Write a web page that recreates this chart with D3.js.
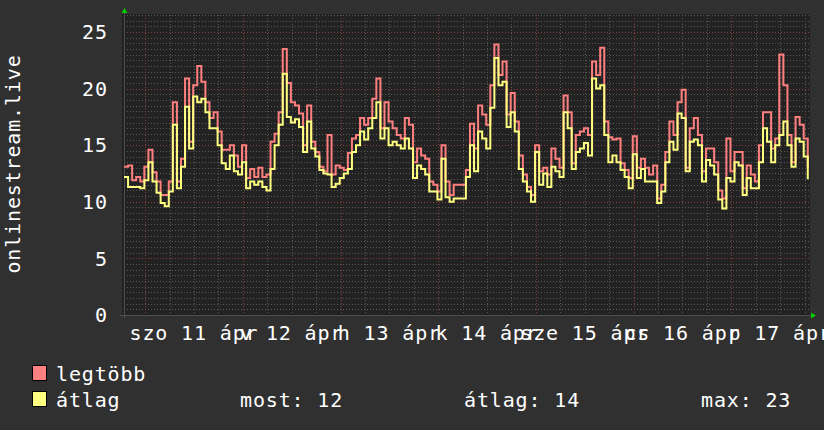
<!DOCTYPE html>
<html><head><meta charset="utf-8">
<script src="https://cdn.jsdelivr.net/npm/d3@7"></script>
<style>
html,body{margin:0;padding:0;background:#303030;}
svg{display:block;}
text{font-family:"DejaVu Sans Mono",monospace;fill:#ffffff;}
</style></head><body>
<svg id="chart" width="824" height="430"></svg>
<script>
// hourly values starting Fri 10 Apr 18:48
const maxVals = [13.1,13.2,11.9,12.2,11.8,13.1,14.6,12.6,11.8,10.6,10.6,11.8,18.8,11.8,13.8,20.9,15.3,20.3,22.0,20.6,
18.8,17.4,17.9,16.2,14.6,14.6,15.0,14.1,13.1,15.0,12.1,12.9,12.2,13.0,12.2,12.4,15.3,16.0,17.9,23.5,
20.5,18.8,18.5,17.8,15.0,18.5,15.3,14.4,13.1,12.7,15.9,12.4,13.2,13.0,12.8,14.3,15.6,15.9,17.4,16.8,
17.4,19.1,20.9,16.5,18.8,17.1,16.5,15.9,15.6,17.4,16.8,13.5,14.7,14.1,13.8,11.8,11.5,10.9,15.0,11.8,
10.6,11.5,11.5,11.5,12.8,16.9,14.7,18.5,17.7,16.8,20.3,23.9,21.2,22.4,17.7,19.6,17.1,14.1,12.4,11.3,
10.6,15.0,12.7,13.0,12.4,14.7,13.8,13.0,19.4,17.9,13.4,15.9,16.2,16.5,15.9,22.4,21.2,23.6,17.1,15.7,
15.5,15.6,13.4,12.8,12.1,15.8,13.0,13.8,13.0,12.4,13.2,10.3,11.5,14.4,17.1,15.9,18.8,19.9,13.0,16.5,
17.4,15.9,12.7,14.7,14.7,13.5,11.0,10.3,15.6,12.7,14.4,14.4,11.2,13.2,12.4,11.8,15.0,17.9,17.9,14.7,
15.6,23.0,20.3,15.9,13.5,17.5,16.8,15.6,13.0];
const avgVals = [12.2,11.3,11.3,11.3,11.2,11.9,13.5,11.8,10.8,9.9,9.6,10.9,16.8,11.2,13.1,18.4,14.7,19.3,18.8,19.1,
17.9,16.5,16.5,15.0,13.4,12.9,14.1,12.7,12.4,13.5,11.2,11.8,11.5,11.8,11.3,11.0,12.9,15.0,16.8,21.3,
17.5,17.0,17.3,16.6,14.4,17.1,14.7,14.0,12.8,12.5,12.4,11.3,11.6,12.1,12.5,12.9,14.4,15.0,16.2,15.5,
16.5,17.4,18.8,15.6,16.5,15.0,15.3,15.0,14.7,15.6,14.7,12.1,13.2,12.9,12.4,10.9,10.9,10.2,13.8,10.4,
10.0,10.3,10.3,10.3,12.2,15.0,12.7,16.2,15.6,14.7,18.3,22.7,20.3,20.6,16.6,17.9,16.2,12.9,11.8,10.9,
10.0,14.4,11.5,12.5,11.3,13.1,12.7,12.2,17.9,16.5,12.9,14.4,14.7,15.2,14.1,20.9,20.0,20.3,15.9,13.5,
14.1,13.5,12.8,12.2,11.2,14.2,12.1,12.9,11.8,11.8,11.8,9.9,10.9,13.5,15.3,14.6,17.8,17.4,12.7,15.3,
15.5,15.0,11.8,13.7,13.2,12.4,10.2,9.4,12.1,11.8,13.5,13.2,10.6,12.1,11.2,11.2,13.5,16.5,15.3,13.5,
15.0,15.9,17.1,15.0,13.1,15.6,15.3,14.0,12.0];
const yTicks = [0,5,10,15,20,25];
const xLabels = ["szo 11 ápr","v 12 ápr","h 13 ápr","k 14 ápr","sze 15 ápr","cs 16 ápr","p 17 ápr"];
const yTitle = "onlinestream.live";
const legendNames = ["legtöbb","átlag"];
const statLabels = ["most: 12","átlag: 14","max: 23"];

const startTime = Date.UTC(2015,3,10,18,48);
const HOUR = 3600000;
const endTime = startTime + 168.3*HOUR;
const dates = maxVals.map((d,i)=>new Date(startTime + i*HOUR));

const svg = d3.select("#chart");
const W = 824, H = 430;
const plot = {l:124, r:809, t:15, b:315};
const x = d3.scaleUtc().domain([new Date(startTime), new Date(endTime)]).range([plot.l, plot.r]);
const y = d3.scaleLinear().domain([0, 26.5]).range([plot.b, plot.t]);

svg.append("rect").attr("width",W).attr("height",H).attr("fill","#303030");
svg.append("rect").attr("x",plot.l-2).attr("y",plot.t-1).attr("width",plot.r-plot.l+3).attr("height",plot.b-plot.t+1).attr("fill","#222222");

const grid = svg.append("g");
const hMinor = d3.range(0.5, 26.51, 0.5).filter(v=>Math.abs(v%5)>0.01);
grid.selectAll(".hm").data(hMinor).join("line")
  .attr("x1",plot.l).attr("x2",plot.r).attr("y1",d=>Math.round(y(d))+0.5).attr("y2",d=>Math.round(y(d))+0.5)
  .attr("stroke","#585858").attr("stroke-width",1).attr("stroke-dasharray","1,2");
const vMinor = d3.utcHour.every(6).range(new Date(startTime), new Date(endTime)).filter(d=>d.getUTCHours()!==0);
grid.selectAll(".vm").data(vMinor).join("line")
  .attr("x1",d=>Math.round(x(d))+0.5).attr("x2",d=>Math.round(x(d))+0.5).attr("y1",plot.t).attr("y2",plot.b)
  .attr("stroke","#585858").attr("stroke-width",1).attr("stroke-dasharray","1,2");
grid.selectAll(".hM").data(yTicks.filter(v=>v>0)).join("line")
  .attr("x1",plot.l).attr("x2",plot.r).attr("y1",d=>Math.round(y(d))+0.5).attr("y2",d=>Math.round(y(d))+0.5)
  .attr("stroke","#8a3a3a").attr("stroke-width",1).attr("stroke-dasharray","1,2");
const days = d3.utcDay.range(new Date(startTime), new Date(endTime));
grid.selectAll(".vM").data(days).join("line")
  .attr("x1",d=>Math.round(x(d))+0.5).attr("x2",d=>Math.round(x(d))+0.5).attr("y1",plot.t).attr("y2",plot.b+3)
  .attr("stroke","#8a3a3a").attr("stroke-width",1).attr("stroke-dasharray","1,2");

svg.append("line").attr("x1",plot.l-4).attr("x2",plot.r+2).attr("y1",plot.b+0.5).attr("y2",plot.b+0.5).attr("stroke","#4e4e4e");
svg.append("line").attr("x1",plot.l+0.5).attr("x2",plot.l+0.5).attr("y1",plot.t-3).attr("y2",plot.b+3).attr("stroke","#4e4e4e");
svg.append("path").attr("d",`M${plot.l-2.5},${plot.t-2} L${plot.l+0.5},${plot.t-7} L${plot.l+3.5},${plot.t-2} Z`).attr("fill","#00cc00");
svg.append("path").attr("d",`M${plot.r+2},${plot.b-2.5} L${plot.r+7},${plot.b+0.5} L${plot.r+2},${plot.b+3.5} Z`).attr("fill","#00cc00");

const line = d3.line().x((d,i)=>x(dates[i])).y(d=>y(d)).curve(d3.curveStepAfter);
svg.append("path").datum(maxVals).attr("d",line).attr("fill","none").attr("stroke","#ff7f7f").attr("stroke-width",2);
svg.append("path").datum(avgVals).attr("d",line).attr("fill","none").attr("stroke","#ffff80").attr("stroke-width",2);

svg.selectAll(".yl").data(yTicks).join("text")
  .attr("x",108).attr("y",d=>y(d)+7.3).attr("text-anchor","end")
  .style("font-size","20px").style("letter-spacing","0.9px").text(d=>d);
svg.append("text").attr("transform","translate(19.5,164) rotate(-90)").attr("text-anchor","middle")
  .style("font-size","20px").style("letter-spacing","0.85px").text(yTitle);
svg.selectAll(".xl").data(xLabels).join("text")
  .attr("x",(d,i)=>x(new Date(days[i].getTime()+12*HOUR))).attr("y",340)
  .attr("text-anchor","middle").style("font-size","20px").style("letter-spacing","0.85px").text(d=>d);

const legColors = ["#ff8080","#ffff80"];
const legY = [381, 407];
legendNames.forEach((n,i)=>{
  svg.append("rect").attr("x",32.5).attr("y",legY[i]-15.5).attr("width",14).attr("height",15)
    .attr("fill",legColors[i]).attr("stroke","#000").attr("stroke-width",1);
  svg.append("text").attr("x",56).attr("y",legY[i]).style("font-size","20px").style("letter-spacing","0.85px").text(n);
});
const statX = [240, 464, 701];
statLabels.forEach((s,i)=>{
  svg.append("text").attr("x",statX[i]).attr("y",407).style("font-size","20px").style("letter-spacing","0.85px").text(s);
});
</script>
</body></html>
